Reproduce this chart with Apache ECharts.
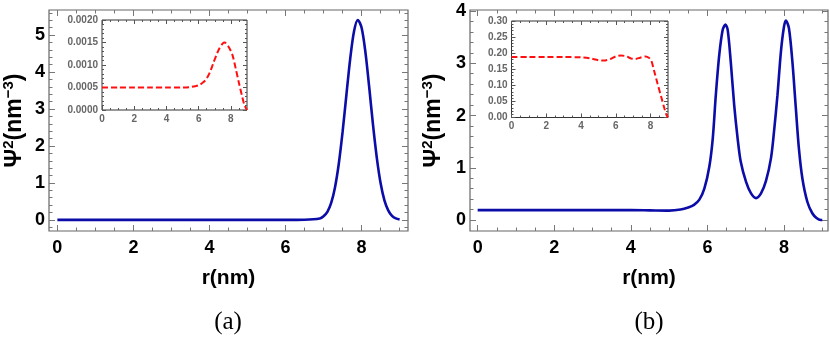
<!DOCTYPE html>
<html>
<head>
<meta charset="utf-8">
<script src="https://cdn.jsdelivr.net/npm/echarts@6/dist/echarts.min.js"></script>
<style>html,body{margin:0;padding:0;background:#fff;}#c{width:830px;height:352px;}</style>
</head>
<body>
<div id="c"></div>
<script>
// ---------- data: panel (a) ----------
const aX = [0, 1, 2, 3, 4, 5, 6, 6.5, 6.9, 7.0, 7.1, 7.2, 7.3, 7.4, 7.5, 7.6, 7.7, 7.8, 7.9, 8.0, 8.1, 8.2, 8.3, 8.4, 8.5, 8.6, 8.7, 8.8, 8.9, 9.0];
const aY = [0, 0, 0, 0, 0, 0, 0, 0.005, 0.04, 0.10, 0.22, 0.46, 0.88, 1.52, 2.38, 3.38, 4.36, 5.10, 5.41, 5.20, 4.54, 3.59, 2.57, 1.68, 0.99, 0.53, 0.26, 0.11, 0.04, 0.01];
const aInsetX = [0, 1, 2, 3, 4, 5, 5.5, 6.0, 6.3, 6.5, 6.7, 6.9, 7.1, 7.3, 7.5, 7.6, 7.7, 7.9, 8.1, 8.3, 8.5, 8.7, 8.85, 9.0];
const aInsetY = [0.0005, 0.0005, 0.0005, 0.0005, 0.0005, 0.0005, 0.00051, 0.00055, 0.00062, 0.0007, 0.00084, 0.00103, 0.00122, 0.00138, 0.00148, 0.0015, 0.00148, 0.00138, 0.00122, 0.00092, 0.0006, 0.0003, 0.0001, 0];

// ---------- data: panel (b) ----------
const bX = [0, 1, 2, 3, 4, 4.5, 5.0, 5.3, 5.5, 5.65, 5.79, 5.92, 6.05, 6.14, 6.22, 6.31, 6.40, 6.47, 6.53, 6.61, 6.70, 6.79, 6.87, 7.01, 7.14, 7.27, 7.40, 7.53, 7.66, 7.74, 7.83, 7.92, 8.00, 8.05, 8.13, 8.22, 8.31, 8.39, 8.48, 8.61, 8.74, 8.85, 8.96, 9.0];
const bY = [0.19, 0.19, 0.19, 0.19, 0.19, 0.185, 0.18, 0.2, 0.24, 0.29, 0.39, 0.6, 1.02, 1.56, 2.39, 3.16, 3.64, 3.74, 3.64, 3.03, 2.20, 1.56, 1.12, 0.73, 0.51, 0.42, 0.51, 0.75, 1.18, 1.69, 2.39, 3.22, 3.70, 3.82, 3.67, 3.03, 2.14, 1.37, 0.80, 0.35, 0.13, 0.04, 0.0, 0.0];
const bInsetX = [0, 1, 2, 3, 4, 4.5, 5.0, 5.3, 5.7, 6.0, 6.3, 6.6, 6.9, 7.1, 7.4, 7.7, 7.9, 8.05, 8.2, 8.4, 8.6, 8.8, 8.9, 9.0];
const bInsetY = [0.188, 0.188, 0.188, 0.188, 0.187, 0.184, 0.178, 0.177, 0.182, 0.19, 0.193, 0.19, 0.183, 0.182, 0.186, 0.19, 0.186, 0.175, 0.145, 0.105, 0.066, 0.027, 0.01, 0];

// ---------- ticks ----------
const mainXMajor = [0, 2, 4, 6, 8];
const mainXMinor = [0.5, 1, 1.5, 2.5, 3, 3.5, 4.5, 5, 5.5, 6.5, 7, 7.5, 8.5, 9];
const aYMajor = [0, 1, 2, 3, 4, 5];
const aYMinor = [-0.2, 0.2, 0.4, 0.6, 0.8, 1.2, 1.4, 1.6, 1.8, 2.2, 2.4, 2.6, 2.8, 3.2, 3.4, 3.6, 3.8, 4.2, 4.4, 4.6, 4.8, 5.2, 5.4, 5.6];
const bYMajor = [0, 1, 2, 3, 4];
const bYMinor = [0.2, 0.4, 0.6, 0.8, 1.2, 1.4, 1.6, 1.8, 2.2, 2.4, 2.6, 2.8, 3.2, 3.4, 3.6, 3.8];
const insetXMajor = [0, 2, 4, 6, 8];
const insetXMinor = [0.5, 1, 1.5, 2.5, 3, 3.5, 4.5, 5, 5.5, 6.5, 7, 7.5, 8.5];
const aInsetYMajor = [0, 0.0005, 0.001, 0.0015, 0.002];
const aInsetYMinor = [0.0001, 0.0002, 0.0003, 0.0004, 0.0006, 0.0007, 0.0008, 0.0009, 0.0011, 0.0012, 0.0013, 0.0014, 0.0016, 0.0017, 0.0018, 0.0019];
const bInsetYMajor = [0, 0.05, 0.1, 0.15, 0.2, 0.25, 0.3];
const bInsetYMinor = [0.01, 0.02, 0.03, 0.04, 0.06, 0.07, 0.08, 0.09, 0.11, 0.12, 0.13, 0.14, 0.16, 0.17, 0.18, 0.19, 0.21, 0.22, 0.23, 0.24, 0.26, 0.27, 0.28, 0.29];

const xTitle = 'r(nm)';
const yTitleParts = ['Ψ', '2', '(nm', '−3', ')'];
const panelLabels = ['(a)', '(b)'];

// ---------- layout helpers ----------
const FONT = 'Liberation Sans, Arial, sans-serif';
const grids = [], xAxes = [], yAxes = [], series = [];

function pairs(xs, ys) { return xs.map((x, i) => [x, ys[i]]); }

function addFrame(rect, xr, yr, xMaj, xMin, yMaj, yMin, cfg) {
  const gMaj = grids.length;
  grids.push(Object.assign({show: true, borderColor: cfg.frameColor, borderWidth: cfg.frameWidth, backgroundColor: '#fff', containLabel: false}, rect));
  const gMin = grids.length;
  grids.push(Object.assign({show: false, containLabel: false}, rect));
  const tickStyle = {color: cfg.tickColor, width: 1};
  const lbl = (vals, fmt, margin) => ({show: true, customValues: vals, formatter: fmt, margin: margin,
    fontSize: cfg.fontSize, fontWeight: 'bold', fontFamily: FONT, color: cfg.labelColor});
  const base = (g, pos, r) => ({type: 'value', gridIndex: g, position: pos, min: r[0], max: r[1],
    axisLine: {show: false, onZero: false}, splitLine: {show: false}});
  const tick = (vals, len) => ({show: true, inside: true, length: len, customValues: vals, lineStyle: tickStyle});
  const xi = xAxes.length, yi = yAxes.length;
  xAxes.push(Object.assign(base(gMaj, 'bottom', xr), {
    axisTick: tick(xMaj, cfg.major),
    axisLabel: lbl(xMaj, v => String(v), cfg.xMargin),
    name: cfg.xName || '', nameLocation: 'middle', nameGap: cfg.xNameGap || 0,
    nameTextStyle: {fontSize: 21, fontWeight: 'bold', fontFamily: FONT, color: '#000'}
  }));
  xAxes.push(Object.assign(base(gMaj, 'top', xr), {axisTick: tick(xMaj, cfg.major), axisLabel: {show: false}}));
  xAxes.push(Object.assign(base(gMin, 'bottom', xr), {axisTick: tick(xMin, cfg.minor), axisLabel: {show: false}}));
  xAxes.push(Object.assign(base(gMin, 'top', xr), {axisTick: tick(xMin, cfg.minor), axisLabel: {show: false}}));
  const yAx = Object.assign(base(gMaj, 'left', yr), {
    axisTick: tick(yMaj, cfg.major),
    axisLabel: lbl(yMaj, cfg.yFmt, cfg.yMargin)
  });
  if (cfg.yName) {
    Object.assign(yAx, {
      name: cfg.yName, nameLocation: 'middle', nameGap: cfg.yNameGap, nameRotate: 90,
      nameTextStyle: {fontSize: 23, fontWeight: 'bold', fontFamily: FONT, color: '#000',
        rich: {
          n: {fontSize: 23, fontWeight: 'bold', fontFamily: FONT, color: '#000', lineHeight: 28},
          s: {fontSize: 15, fontWeight: 'bold', fontFamily: FONT, color: '#000', verticalAlign: 'top', lineHeight: 28, padding: [0, 0, 11, 0]}
        }}
    });
  }
  yAxes.push(yAx);
  yAxes.push(Object.assign(base(gMaj, 'right', yr), {axisTick: tick(yMaj, cfg.major), axisLabel: {show: false}}));
  yAxes.push(Object.assign(base(gMin, 'left', yr), {axisTick: tick(yMin, cfg.minor), axisLabel: {show: false}}));
  yAxes.push(Object.assign(base(gMin, 'right', yr), {axisTick: tick(yMin, cfg.minor), axisLabel: {show: false}}));
  return {xi: xi, yi: yi};
}

const yNameRich = '{n|' + yTitleParts[0] + '}{s|' + yTitleParts[1] + '}{n|' + yTitleParts[2] + '}{s|' + yTitleParts[3] + '}{n|' + yTitleParts[4] + '}';

const mainCfg = (extra) => Object.assign({frameColor: '#666', tickColor: '#777', frameWidth: 1.2, labelColor: '#000', fontSize: 18,
  major: 6, minor: 3.5, xMargin: 8, yMargin: 4, yFmt: v => String(v),
  xName: xTitle, xNameGap: 37, yName: yNameRich, yNameGap: 20}, extra || {});
const insetCfg = (fmt) => ({frameColor: '#333', tickColor: '#555', frameWidth: 1, labelColor: '#666', fontSize: 10,
  major: 4, minor: 2, xMargin: 4, yMargin: 4, yFmt: fmt});

const A = addFrame({left: 49, top: 10, width: 359, height: 221}, [-0.22, 9.22], [-0.30, 5.68],
  mainXMajor, mainXMinor, aYMajor, aYMinor, mainCfg());
series.push({type: 'line', xAxisIndex: A.xi, yAxisIndex: A.yi, data: pairs(aX, aY), showSymbol: false, smooth: 0.3,
  lineStyle: {color: '#0c0ca8', width: 2.6}, z: 3});
const AI = addFrame({left: 102, top: 20, width: 145, height: 90}, [0, 9], [0, 0.002],
  insetXMajor, insetXMinor, aInsetYMajor, aInsetYMinor, insetCfg(v => v.toFixed(4)));
series.push({type: 'line', xAxisIndex: AI.xi, yAxisIndex: AI.yi, data: pairs(aInsetX, aInsetY), showSymbol: false, smooth: 0.3,
  lineStyle: {color: '#ff1010', width: 2, type: [6, 3]}, z: 5});
const B = addFrame({left: 470, top: 10, width: 358, height: 221}, [-0.2, 9.15], [-0.21, 4.02],
  mainXMajor, mainXMinor, bYMajor, bYMinor, mainCfg({yNameGap: 22}));
series.push({type: 'line', xAxisIndex: B.xi, yAxisIndex: B.yi, data: pairs(bX, bY), showSymbol: false, smooth: 0.3,
  lineStyle: {color: '#0c0ca8', width: 2.6}, z: 3});
const BI = addFrame({left: 511.5, top: 21, width: 156.5, height: 96.5}, [0, 9], [0, 0.3],
  insetXMajor, insetXMinor, bInsetYMajor, bInsetYMinor, insetCfg(v => v.toFixed(2)));
series.push({type: 'line', xAxisIndex: BI.xi, yAxisIndex: BI.yi, data: pairs(bInsetX, bInsetY), showSymbol: false, smooth: 0.3,
  lineStyle: {color: '#ff1010', width: 2, type: [6, 3]}, z: 5});

const chart = echarts.init(document.getElementById('c'), null, {renderer: 'canvas'});
chart.setOption({
  animation: false,
  backgroundColor: '#fff',
  grid: grids,
  xAxis: xAxes,
  yAxis: yAxes,
  series: series,
  graphic: [
    {type: 'text', x: 228, y: 322, style: {text: panelLabels[0], fontSize: 25, fontFamily: 'Liberation Serif, Times New Roman, serif', fill: '#000', textAlign: 'center', textVerticalAlign: 'middle'}},
    {type: 'text', x: 649, y: 322, style: {text: panelLabels[1], fontSize: 25, fontFamily: 'Liberation Serif, Times New Roman, serif', fill: '#000', textAlign: 'center', textVerticalAlign: 'middle'}}
  ]
});
</script>
</body>
</html>
